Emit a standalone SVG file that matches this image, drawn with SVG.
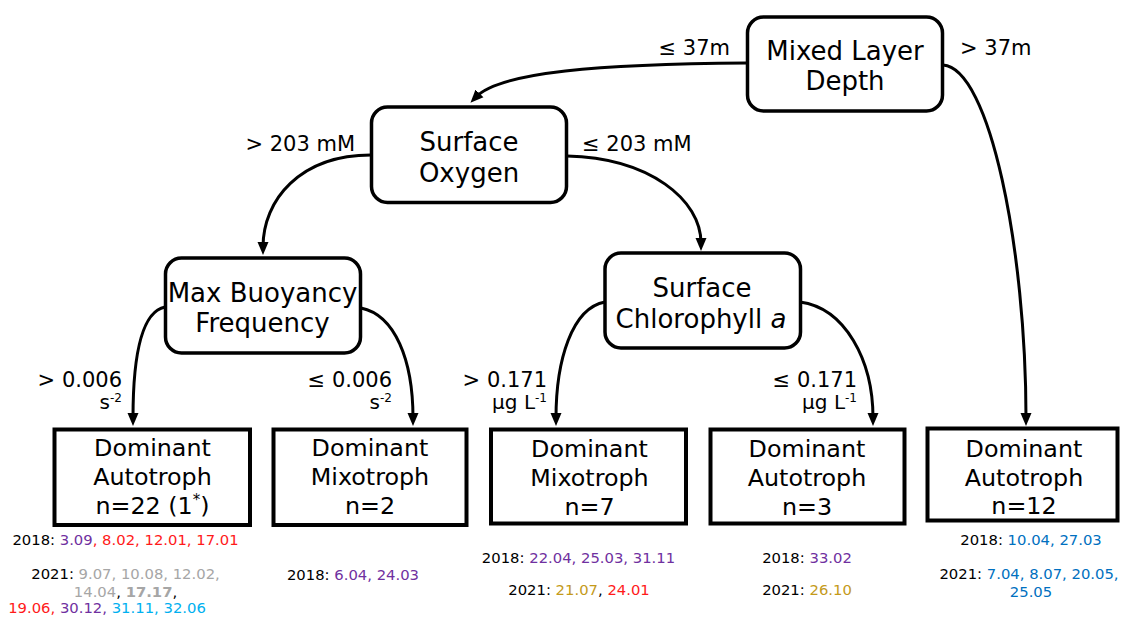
<svg xmlns="http://www.w3.org/2000/svg" width="1122" height="617" viewBox="0 0 1122 617">
  <defs>
    <marker id="arrow" markerUnits="userSpaceOnUse" markerWidth="14" markerHeight="12" viewBox="0 0 14 12" refX="5" refY="6" orient="auto">
      <path d="M0,0.5 L13,6 L0,11.5 z" fill="#000"/>
    </marker>
    <style>
      text { font-family: "DejaVu Sans", Verdana, sans-serif; fill: #000; }
      .decision rect { fill: #fff; stroke: #000; stroke-width: 3.5; }
      .leaf rect { fill: #fff; stroke: #000; stroke-width: 4; }
      .ntext { font-size: 26px; text-anchor: middle; }
      .ltext { font-size: 23.8px; text-anchor: middle; }
      .elabel { font-size: 21px; }
      .unit { font-size: 20px; }
      .sup { font-size: 12px; }
      .dates { font-size: 14.8px; text-anchor: middle; }
      .edges path { fill: none; stroke: #000; stroke-width: 3; marker-end: url(#arrow); }
      .pur { fill: #7030A0; }
      .red { fill: #FF1A1A; }
      .gry { fill: #A6A6A6; }
      .cya { fill: #00B0F0; }
      .blu { fill: #0070C0; }
      .gld { fill: #C49A1A; }
    </style>
  </defs>

  <rect width="1122" height="617" fill="#fff"/>

  <!-- connectors -->
  <g id="connectors" class="edges">
    <path d="M747,63 C600,64 500,72 476,97"/>
    <path d="M943,65 C990,68 1026,250 1026,418"/>
    <path d="M371,155 C300,155 263,200 263,247"/>
    <path d="M567,156 C650,158 701,200 701,243"/>
    <path d="M165,307 C140,312 133,360 133,418"/>
    <path d="M361,308 C395,315 413,360 413,418"/>
    <path d="M605,302 C572,308 556,360 556,418"/>
    <path d="M800,302 C845,308 873,360 873,418"/>
  </g>

  <!-- branch conditions -->
  <g id="edge-labels" class="elabel">
    <text x="730" y="55" text-anchor="end">≤ 37m</text>
    <text x="960" y="55">&gt; 37m</text>
    <text x="355" y="151" text-anchor="end">&gt; 203 mM</text>
    <text x="582" y="151">≤ 203 mM</text>
    <text x="122" y="387" text-anchor="end">&gt; 0.006</text>
    <text class="unit" x="122" y="409" text-anchor="end">s<tspan class="sup" dy="-7">-2</tspan></text>
    <text x="392" y="387" text-anchor="end">≤ 0.006</text>
    <text class="unit" x="392" y="409" text-anchor="end">s<tspan class="sup" dy="-7">-2</tspan></text>
    <text x="547" y="387" text-anchor="end">&gt; 0.171</text>
    <text class="unit" x="547" y="409" text-anchor="end">µg L<tspan class="sup" dy="-7">-1</tspan></text>
    <text x="857" y="387" text-anchor="end">≤ 0.171</text>
    <text class="unit" x="857" y="409" text-anchor="end">µg L<tspan class="sup" dy="-7">-1</tspan></text>
  </g>

  <!-- decision nodes -->
  <g id="mixed-layer-depth" class="decision">
    <rect x="747.5" y="17" width="195" height="94" rx="16"/>
    <text class="ntext" x="845" y="60">Mixed Layer</text>
    <text class="ntext" x="845" y="90">Depth</text>
  </g>
  <g id="surface-oxygen" class="decision">
    <rect x="371.5" y="107" width="195" height="95.5" rx="16"/>
    <text class="ntext" x="469" y="151">Surface</text>
    <text class="ntext" x="469" y="182">Oxygen</text>
  </g>
  <g id="max-buoyancy-frequency" class="decision">
    <rect x="165.5" y="258" width="195" height="95" rx="16"/>
    <text class="ntext" x="262.5" y="302">Max Buoyancy</text>
    <text class="ntext" x="262.5" y="332">Frequency</text>
  </g>
  <g id="surface-chlorophyll" class="decision">
    <rect x="605" y="253" width="195.5" height="95" rx="16"/>
    <text class="ntext" x="702" y="297">Surface</text>
    <text class="ntext" x="701" y="328">Chlorophyll <tspan font-style="italic">a</tspan></text>
  </g>

  <!-- leaf nodes -->
  <g id="leaf-autotroph-22" class="leaf">
    <rect x="54.5" y="429.5" width="195.5" height="95.5"/>
    <text class="ltext" x="152.5" y="456">Dominant</text>
    <text class="ltext" x="152.5" y="485">Autotroph</text>
    <text class="ltext" x="152.5" y="514">n=22 (1<tspan font-size="15" dy="-9">*</tspan><tspan dy="9">)</tspan></text>
  </g>
  <g id="leaf-mixotroph-2" class="leaf">
    <rect x="273.5" y="429.5" width="193" height="95.5"/>
    <text class="ltext" x="370" y="456">Dominant</text>
    <text class="ltext" x="370" y="485">Mixotroph</text>
    <text class="ltext" x="370" y="514">n=2</text>
  </g>
  <g id="leaf-mixotroph-7" class="leaf">
    <rect x="491" y="429.5" width="195" height="94"/>
    <text class="ltext" x="589.5" y="457">Dominant</text>
    <text class="ltext" x="589.5" y="486">Mixotroph</text>
    <text class="ltext" x="589.5" y="515">n=7</text>
  </g>
  <g id="leaf-autotroph-3" class="leaf">
    <rect x="710.5" y="429.5" width="194" height="94"/>
    <text class="ltext" x="807" y="457">Dominant</text>
    <text class="ltext" x="807" y="486">Autotroph</text>
    <text class="ltext" x="807" y="515">n=3</text>
  </g>
  <g id="leaf-autotroph-12" class="leaf">
    <rect x="927.5" y="428.5" width="190" height="92"/>
    <text class="ltext" x="1024" y="457">Dominant</text>
    <text class="ltext" x="1024" y="486">Autotroph</text>
    <text class="ltext" x="1024" y="514">n=12</text>
  </g>

  <!-- sampling dates under each leaf -->
  <g id="dates-autotroph-22" class="dates">
    <text x="125.5" y="545">2018: <tspan class="pur">3.09</tspan><tspan class="red">, 8.02, 12.01, 17.01</tspan></text>
    <text x="125.5" y="579">2021: <tspan class="gry">9.07, 10.08, 12.02,</tspan></text>
    <text x="125.5" y="597"><tspan class="gry">14.04</tspan>, <tspan class="gry" font-weight="bold">17.17</tspan>,</text>
    <text x="107" y="613"><tspan class="red">19.06, </tspan><tspan class="pur">30.12, </tspan><tspan class="cya">31.11, 32.06</tspan></text>
  </g>
  <g id="dates-mixotroph-2" class="dates">
    <text x="353" y="580">2018: <tspan class="pur">6.04, 24.03</tspan></text>
  </g>
  <g id="dates-mixotroph-7" class="dates">
    <text x="578.5" y="563">2018: <tspan class="pur">22.04, 25.03, 31.11</tspan></text>
    <text x="579" y="595">2021: <tspan class="gld">21.07</tspan>, <tspan class="red">24.01</tspan></text>
  </g>
  <g id="dates-autotroph-3" class="dates">
    <text x="807" y="563">2018: <tspan class="pur">33.02</tspan></text>
    <text x="807" y="595">2021: <tspan class="gld">26.10</tspan></text>
  </g>
  <g id="dates-autotroph-12" class="dates">
    <text x="1031" y="545">2018: <tspan class="blu">10.04, 27.03</tspan></text>
    <text x="1029" y="579">2021: <tspan class="blu">7.04, 8.07, 20.05,</tspan></text>
    <text x="1031" y="597" class="blu">25.05</text>
  </g>
</svg>
